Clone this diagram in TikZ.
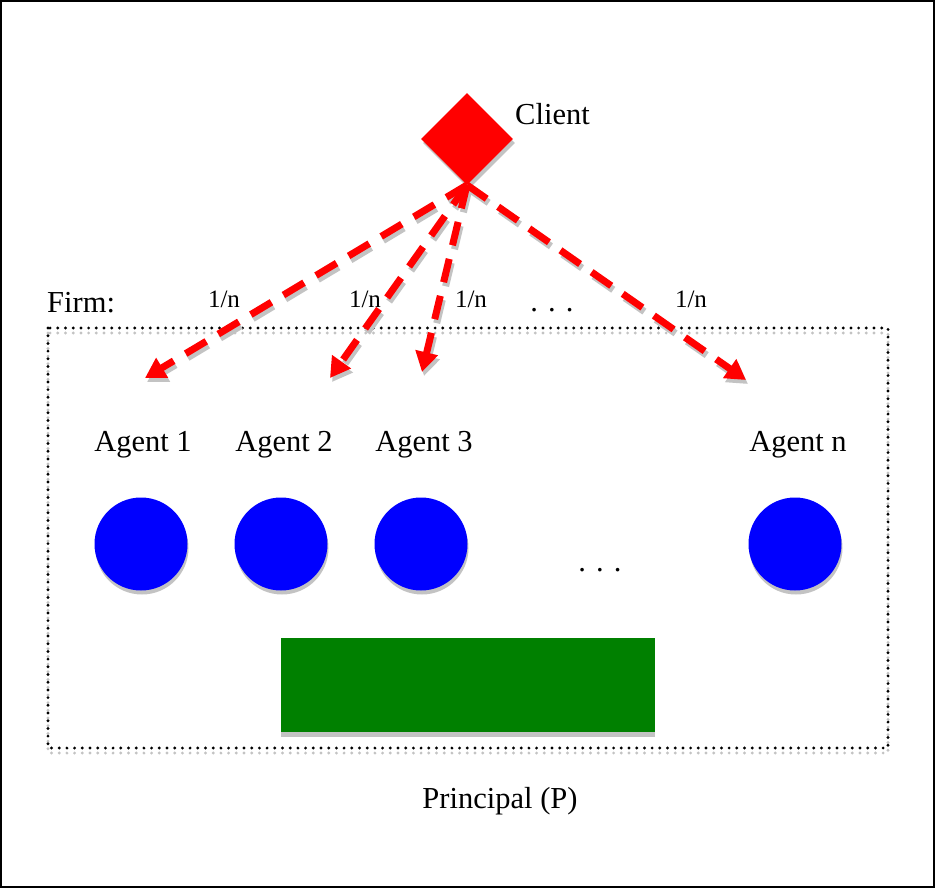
\documentclass[tikz,border=0pt]{standalone}
\usepackage{fontspec}
\setmainfont{Liberation Serif}
\usetikzlibrary{shapes.geometric,arrows.meta}
\definecolor{sh}{RGB}{195,195,195}
\definecolor{dgreen}{RGB}{0,128,0}
\tikzset{
  lbl/.style={font=\fontsize{30.5}{34}\selectfont, inner sep=0pt},
  frac/.style={font=\fontsize{25}{29}\selectfont, inner sep=0pt},
  agent/.style={circle, fill=blue, minimum size=93pt, inner sep=0pt},
  agentsh/.style={circle, fill=sh, minimum size=93pt, inner sep=0pt},
  flow/.style={red, line width=7pt, dash pattern=on 24pt off 14pt, -{Triangle[length=20pt,width=22pt]}},
  flowsh/.style={sh, line width=7pt, dash pattern=on 24pt off 14pt, -{Triangle[length=20pt,width=22pt]}},
  dotline/.style={line width=3.2pt, line cap=round, dash pattern=on 0pt off 7.7pt},
}
\begin{document}
\begin{tikzpicture}[x=1pt,y=-1pt]
\useasboundingbox (0,0) rectangle (935,888);
\draw[line width=2pt] (1,1) rectangle (934,887);
% firm dotted box with shadow
\draw[dotline, sh] (48,333) rectangle (888,753);
\draw[dotline, black] (48,328) rectangle (888,748);
% client
\node[diamond, fill=sh, minimum width=92pt, minimum height=92pt, inner sep=0pt] at (469,143) {};
\node[diamond, fill=red, minimum width=92pt, minimum height=92pt, inner sep=0pt] (client) at (467,139) {};
\node[lbl, anchor=west] (clientlbl) at (515,114) {Client};
% arrow end points
\coordinate (c0) at (467,185);
\coordinate (e1) at (145,378);
\coordinate (e2) at (330,378);
\coordinate (e3) at (422,372);
\coordinate (e4) at (746,380);
\coordinate (c0s) at (469,189);
\coordinate (e1s) at (147,382);
\coordinate (e2s) at (332,382);
\coordinate (e3s) at (424,376);
\coordinate (e4s) at (748,384);
\foreach \e in {e1s,e2s,e3s,e4s} \draw[flowsh] (c0s) -- (\e);
\foreach \e in {e1,e2,e3,e4} \draw[flow] (c0) -- (\e);
% labels
\node[lbl, anchor=west] (firm) at (47,303) {Firm:};
\node[frac] (f1) at (224,299) {1/n};
\node[frac] (f2) at (365,299) {1/n};
\node[frac] (f3) at (471,299) {1/n};
\node[frac] (f4) at (691,299) {1/n};
\node[lbl] (dots1) at (552,310) {. . .};
\node[lbl] (a1l) at (143,445) {Agent 1};
\node[lbl] (a2l) at (284,445) {Agent 2};
\node[lbl] (a3l) at (424,445) {Agent 3};
\node[lbl] (anl) at (798,445) {Agent n};
% agents
\foreach \x in {141,281,421,795} \node[agentsh] at (\x+1,548) {};
\node[agent] (a1) at (141,544) {};
\node[agent] (a2) at (281,544) {};
\node[agent] (a3) at (421,544) {};
\node[agent] (an) at (795,544) {};
\node[lbl] (dots2) at (600,570) {. . .};
% principal
\fill[sh] (281,642) rectangle (655,737);
\node[fill=dgreen, minimum width=374pt, minimum height=94pt, inner sep=0pt, anchor=north west] (prin) at (281,638) {};
\node[lbl] (plbl) at (500,801) {Principal (P)};
\end{tikzpicture}
\end{document}
